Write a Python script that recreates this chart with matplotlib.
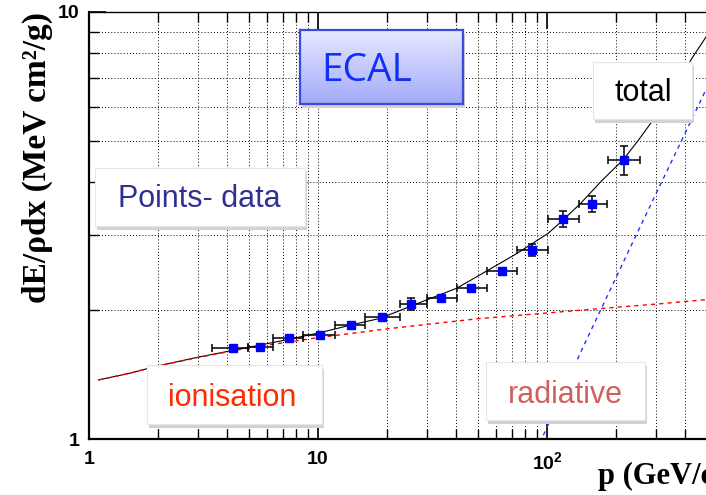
import numpy as np
import matplotlib
matplotlib.use('Agg')
import matplotlib.pyplot as plt
from matplotlib.patches import Rectangle
from matplotlib.ticker import FixedLocator, NullFormatter

# measured points (momentum bins, dE/rho dx)
p_data = [4.27, 5.58, 7.49, 10.2, 13.9, 19.0, 25.5, 34.4, 46.7, 63.6, 86.3, 117, 158, 216]
dedx_data = [1.63, 1.64, 1.72, 1.75, 1.85, 1.93, 2.07, 2.14, 2.26, 2.47, 2.77, 3.28, 3.55, 4.50]
dedx_err = [0.02, 0.02, 0.02, 0.02, 0.03, 0.03, 0.068, 0.03, 0.03, 0.04, 0.089, 0.14, 0.155, 0.35]
p_lo = [3.43, 4.95, 6.36, 8.60, 11.9, 16.0, 22.8, 29.9, 40.5, 54.7, 74.0, 101, 138, 184]
p_hi = [4.95, 6.36, 8.60, 11.9, 16.0, 22.8, 29.9, 40.5, 54.7, 74.0, 101, 138, 183, 255]

# curves
p_total = [1.1, 1.5, 2, 3, 5, 7, 10, 14, 18.7, 29.8, 40.3, 54.8, 74.1, 101, 117, 140,
           173, 216, 250, 286, 350, 434, 520]
total = [1.375, 1.425, 1.483, 1.555, 1.64, 1.70, 1.77, 1.85, 1.917, 2.117, 2.254, 2.478,
         2.722, 3.03, 3.25, 3.56, 4.02, 4.52, 5.0, 5.52, 6.5, 7.86, 9.1]
p_ion = [1.1, 1.5, 2, 3, 5, 10, 20, 50, 100, 170, 300, 520]
ion = [1.375, 1.425, 1.483, 1.552, 1.635, 1.727, 1.811, 1.913, 1.973, 2.02, 2.07, 2.125]
p_rad = [90, 141.7, 242, 490, 520]
rad = [0.94, 1.616, 2.96, 6.51, 6.96]

xticks = [1, 10, 100, 1000]
xticklabels = ['1', '10', r'$\mathbf{10^{2}}$', '']
yticks = [1, 10]
yticklabels = ['1', '10']

plt.rcParams['mathtext.fontset'] = 'custom'
plt.rcParams['mathtext.rm'] = 'Liberation Sans'
plt.rcParams['mathtext.bf'] = 'Liberation Sans:bold'

W, H = 706, 495
fig = plt.figure(figsize=(W / 100, H / 100), dpi=100)


def fx(x):
    return x / W


def fy(y):
    return 1 - y / H


# axes: 3 decades in x, right part falls outside the picture
ax = fig.add_axes([fx(89), fy(439), (776 - 89) / W, 427 / H])
ax.set_xscale('log')
ax.set_yscale('log')
ax.set_xlim(1, 1000)
ax.set_ylim(1, 10)

ax.grid(True, which='both', color='black', linestyle=(0, (1, 2.2)), linewidth=0.7)

ax.plot(p_total, total, color='black', lw=0.8, zorder=3)
ax.plot(p_ion, ion, color='#ff0000', lw=1.0, ls=(0, (3, 3)), zorder=4)
ax.plot(p_rad, rad, color='#2233ff', lw=1.0, ls=(0, (3, 3)), zorder=4)

p = np.array(p_data)
xerr = [p - np.array(p_lo), np.array(p_hi) - p]
ax.errorbar(p_data, dedx_data, yerr=dedx_err, xerr=xerr, fmt='s', color='#0000ff',
            ms=5.3, mec='#0000ff', ecolor='black', elinewidth=1.1, capsize=3,
            capthick=1.1, zorder=5)

ax.xaxis.set_major_locator(FixedLocator(xticks))
ax.set_xticklabels(xticklabels)
ax.yaxis.set_major_locator(FixedLocator(yticks))
ax.set_yticklabels(yticklabels)
ax.xaxis.set_minor_formatter(NullFormatter())
ax.yaxis.set_minor_formatter(NullFormatter())
ax.tick_params(which='both', direction='in', top=True, right=False)
ax.tick_params(which='major', length=12, width=1.2)
ax.tick_params(which='minor', length=7, width=1.0)
ax.tick_params(axis='x', pad=9)
ax.tick_params(axis='y', pad=7)
for lab in ax.get_xticklabels() + ax.get_yticklabels():
    lab.set_fontfamily('Liberation Sans')
    lab.set_fontweight('bold')
    lab.set_fontsize(14)

ax.spines['left'].set_linewidth(1.6)
ax.spines['bottom'].set_linewidth(1.6)
ax.spines['top'].set_linewidth(1.0)

fig.text(fx(37), fy(12), 'dE/\u03c1dx (MeV cm\u00b2/g)', rotation=90, ha='center', va='top',
         fontsize=24, fontweight='bold', family='Liberation Serif')
fig.text(fx(598), fy(484), 'p (GeV/c)', ha='left', va='baseline',
         fontsize=22, fontweight='bold', family='Liberation Serif')


def pave(x0, y0, x1, y1, face='white'):
    fig.patches.append(Rectangle((fx(x0 + 2), fy(y1 + 4)), (x1 - x0) / W, (y1 - y0) / H,
                                 transform=fig.transFigure, facecolor='#d2d2d2',
                                 edgecolor='none', zorder=1))
    fig.patches.append(Rectangle((fx(x0), fy(y1)), (x1 - x0) / W, (y1 - y0) / H,
                                 transform=fig.transFigure, facecolor=face,
                                 edgecolor='#e6e6e6', lw=0.8, zorder=2))


# ECAL label with gradient
fig.patches.append(Rectangle((fx(302), fy(108)), 163 / W, 74 / H, transform=fig.transFigure,
                             facecolor='#d2d2d2', edgecolor='none', zorder=1))
bax = fig.add_axes([fx(300), fy(104), 163 / W, 74 / H], zorder=2)
grad = np.linspace(0, 1, 64).reshape(-1, 1)
c_top = np.array([0.90, 0.91, 1.0])
c_bot = np.array([0.64, 0.67, 0.98])
img = c_top[None, None, :] * (1 - grad[:, :, None]) + c_bot[None, None, :] * grad[:, :, None]
bax.imshow(img, aspect='auto', extent=(0, 1, 0, 1))
bax.set_xticks([])
bax.set_yticks([])
for s in bax.spines.values():
    s.set_color('#3a4ae0')
    s.set_linewidth(1.6)
fig.text(fx(367), fy(71), 'ECAL', ha='center', va='center', fontsize=28,
         color='#1030f5', family='Open Sans', zorder=4)

pave(95, 168, 305, 226)
fig.text(fx(199), fy(207), 'Points- data', ha='center', va='baseline', fontsize=22,
         color='#2e3192', family='Liberation Sans', zorder=4)
pave(593, 62, 692, 119)
fig.text(fx(643), fy(101), 'total', ha='center', va='baseline', fontsize=22,
         color='black', family='Liberation Sans', zorder=4)
pave(147, 365, 322, 424)
fig.text(fx(232), fy(406), 'ionisation', ha='center', va='baseline', fontsize=22,
         color='#ff2a00', family='Liberation Sans', zorder=4)
pave(486, 362, 645, 420)
fig.text(fx(565), fy(403), 'radiative', ha='center', va='baseline', fontsize=22,
         color='#d06060', family='Liberation Sans', zorder=4)

fig.savefig('out.png', dpi=100)
